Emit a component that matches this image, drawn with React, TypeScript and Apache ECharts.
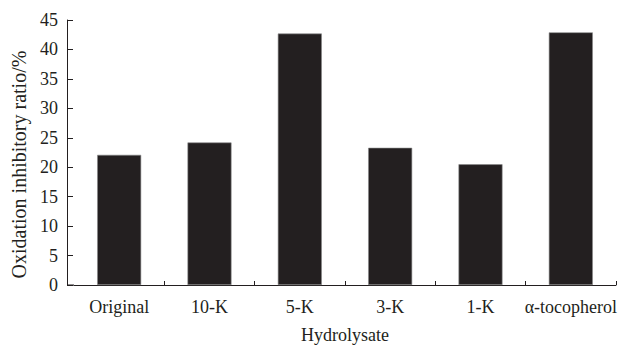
import React, { useEffect, useRef } from "react";
import * as echarts from "echarts";

const categories = ["Original", "10-K", "5-K", "3-K", "1-K", "α-tocopherol"];
const values = [22.1, 24.2, 42.7, 23.3, 20.5, 42.9];
const yMin = 0;
const yMax = 45;
const yInterval = 5;

export default function App() {
  const ref = useRef<HTMLDivElement>(null);
  useEffect(() => {
    if (!ref.current) return;
    const chart = echarts.init(ref.current, null, { renderer: "svg" });
    const font = "'Liberation Serif', 'Times New Roman', serif";
    const ink = "#231f20";
    const gridLeft = 74;
    const yOffset = 7;
    const gridBottom = 61;
    chart.setOption({
      animation: false,
      backgroundColor: "#ffffff",
      textStyle: { fontFamily: font },
      grid: {
        left: gridLeft,
        right: 7,
        top: 20,
        bottom: gridBottom,
        containLabel: false,
        outerBoundsMode: "none",
      },
      xAxis: {
        type: "category",
        data: categories,
        name: "Hydrolysate",
        nameLocation: "middle",
        nameGap: 41,
        nameTextStyle: { fontFamily: font, fontSize: 18, color: ink },
        axisLine: { lineStyle: { color: ink, width: 1 } },
        axisTick: {
          show: true,
          inside: true,
          length: 4,
          alignWithLabel: false,
          interval: (index: number) => index !== 0,
          lineStyle: { color: ink },
        },
        axisLabel: { fontFamily: font, fontSize: 18, color: ink, margin: 13, interval: 0 },
        splitLine: { show: false },
      },
      yAxis: {
        type: "value",
        min: yMin,
        max: yMax,
        interval: yInterval,
        offset: yOffset,
        name: "Oxidation inhibitory ratio/%",
        nameLocation: "middle",
        nameGap: 37,
        nameRotate: 90,
        nameTextStyle: { fontFamily: font, fontSize: 20, color: ink, padding: [0, 24, 0, 0] },
        axisLine: { show: true, lineStyle: { color: ink, width: 1 } },
        axisTick: { show: true, inside: true, length: 6, lineStyle: { color: ink } },
        axisLabel: { fontFamily: font, fontSize: 18, color: ink, margin: 9 },
        splitLine: { show: false },
      },
      graphic: [
        {
          type: "line",
          shape: { x1: gridLeft - yOffset, y1: 346 - gridBottom, x2: gridLeft, y2: 346 - gridBottom },
          style: { stroke: ink, lineWidth: 1 },
          silent: true,
        },
      ],
      series: [
        {
          type: "bar",
          data: values,
          barWidth: "48.7%",
          itemStyle: { color: ink, borderColor: "#8a8a8a", borderWidth: 0.6 },
        },
      ],
    });
    return () => chart.dispose();
  }, []);
  return <div ref={ref} style={{ width: 623, height: 346, position: "absolute", left: 0, top: 0 }} />;
}
